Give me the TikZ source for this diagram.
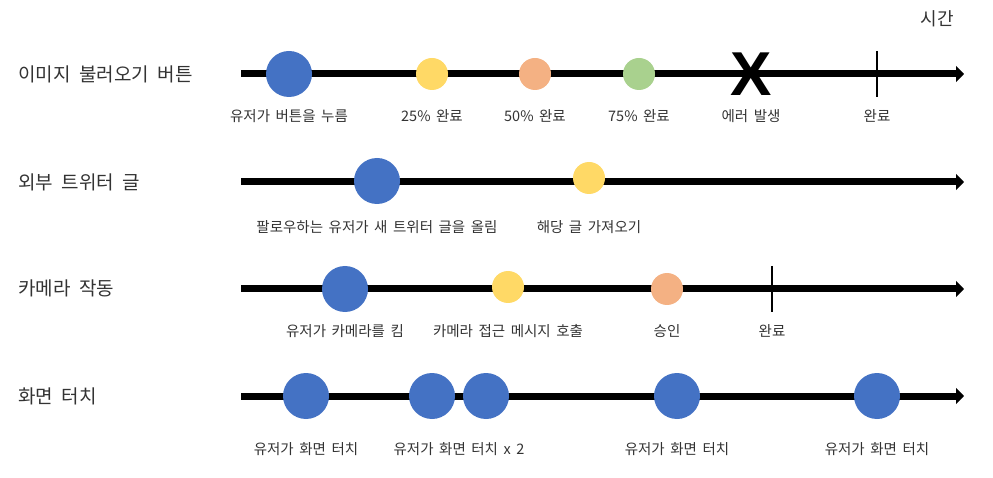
\documentclass[tikz,border=0pt]{standalone}
\usepackage{fontspec}
\setmainfont{Noto Sans CJK KR}[WordSpace=1.7]
\newfontfamily\rowfont{Noto Sans CJK KR}[WordSpace=2.0]
\newfontfamily\xfont{Liberation Sans}
\usetikzlibrary{arrows.meta}
\definecolor{evblue}{HTML}{4472C4}
\definecolor{evyellow}{HTML}{FFD966}
\definecolor{evorange}{HTML}{F4B183}
\definecolor{evgreen}{HTML}{A9D18E}
\definecolor{txt}{HTML}{333333}
\begin{document}
\begin{tikzpicture}[x=1pt,y=-1pt,
  timeline/.style={line width=7pt,-{Triangle[length=8pt,width=16pt]}},
  ev/.style={circle,inner sep=0pt,minimum size=#1},
  bigev/.style={ev=46pt,fill=evblue},
  smallev/.style={ev=32pt,fill=#1},
  lbl/.style={font=\fontsize{14.5}{16}\selectfont,text=txt,inner sep=0pt},
  rowlbl/.style={font=\rowfont\fontsize{19}{21}\selectfont,text=txt,anchor=west,inner sep=0pt},
  tickline/.style={line width=2.5pt}]
\useasboundingbox (0,0) rectangle (993,478);

% title
\node[font=\rowfont\fontsize{18}{20}\selectfont,text=txt,inner sep=0pt] (time) at (937,19) {시간};

% ---------- row 1
\node[rowlbl] (r1) at (18,74) {이미지 불러오기 버튼};
\coordinate (s1) at (241,74);
\coordinate (e1) at (964,74);
\draw[timeline] (s1) -- (e1);
\node[bigev] (a1) at (289,74) {};
\node[smallev=evyellow] (a2) at (432,74) {};
\node[smallev=evorange] (a3) at (535,74) {};
\node[smallev=evgreen] (a4) at (639,74) {};
\node[font=\xfont\bfseries\fontsize{62}{62}\selectfont,inner sep=0pt] (a5) at (751,74) {X};
\coordinate (t1a) at (877,51);
\coordinate (t1b) at (877,97);
\draw[tickline] (t1a) -- (t1b);
\node[lbl] (l11) at (289,116) {유저가 버튼을 누름};
\node[lbl] (l12) at (432,116) {25\% 완료};
\node[lbl] (l13) at (535,116) {50\% 완료};
\node[lbl] (l14) at (639,116) {75\% 완료};
\node[lbl] (l15) at (751,116) {에러 발생};
\node[lbl] (l16) at (877,116) {완료};

% ---------- row 2
\node[rowlbl] (r2) at (18,182) {외부 트위터 글};
\coordinate (s2) at (241,182);
\coordinate (e2) at (964,182);
\draw[timeline] (s2) -- (e2);
\node[bigev] (b1) at (377,181) {};
\node[smallev=evyellow] (b2) at (589,178) {};
\node[lbl] (l21) at (377,227) {팔로우하는 유저가 새 트위터 글을 올림};
\node[lbl] (l22) at (589,227) {해당 글 가져오기};

% ---------- row 3
\node[rowlbl] (r3) at (18,288) {카메라 작동};
\coordinate (s3) at (241,289);
\coordinate (e3) at (964,289);
\draw[timeline] (s3) -- (e3);
\node[bigev] (c1) at (345,289) {};
\node[smallev=evyellow] (c2) at (508,287) {};
\node[smallev=evorange] (c3) at (667,289) {};
\coordinate (t3a) at (772,266);
\coordinate (t3b) at (772,312);
\draw[tickline] (t3a) -- (t3b);
\node[lbl] (l31) at (345,331) {유저가 카메라를 킴};
\node[lbl] (l32) at (508,331) {카메라 접근 메시지 호출};
\node[lbl] (l33) at (667,331) {승인};
\node[lbl] (l34) at (772,331) {완료};

% ---------- row 4
\node[rowlbl] (r4) at (18,396) {화면 터치};
\coordinate (s4) at (241,396);
\coordinate (e4) at (964,396);
\draw[timeline] (s4) -- (e4);
\node[bigev] (d1) at (306,396) {};
\node[bigev] (d2) at (432,396) {};
\node[bigev] (d3) at (486,396) {};
\node[bigev] (d4) at (677,396) {};
\node[bigev] (d5) at (877,396) {};
\node[lbl] (l41) at (306,449) {유저가 화면 터치};
\node[lbl] (l42) at (459,449) {유저가 화면 터치 x 2};
\node[lbl] (l43) at (677,449) {유저가 화면 터치};
\node[lbl] (l44) at (877,449) {유저가 화면 터치};
\end{tikzpicture}
\end{document}
